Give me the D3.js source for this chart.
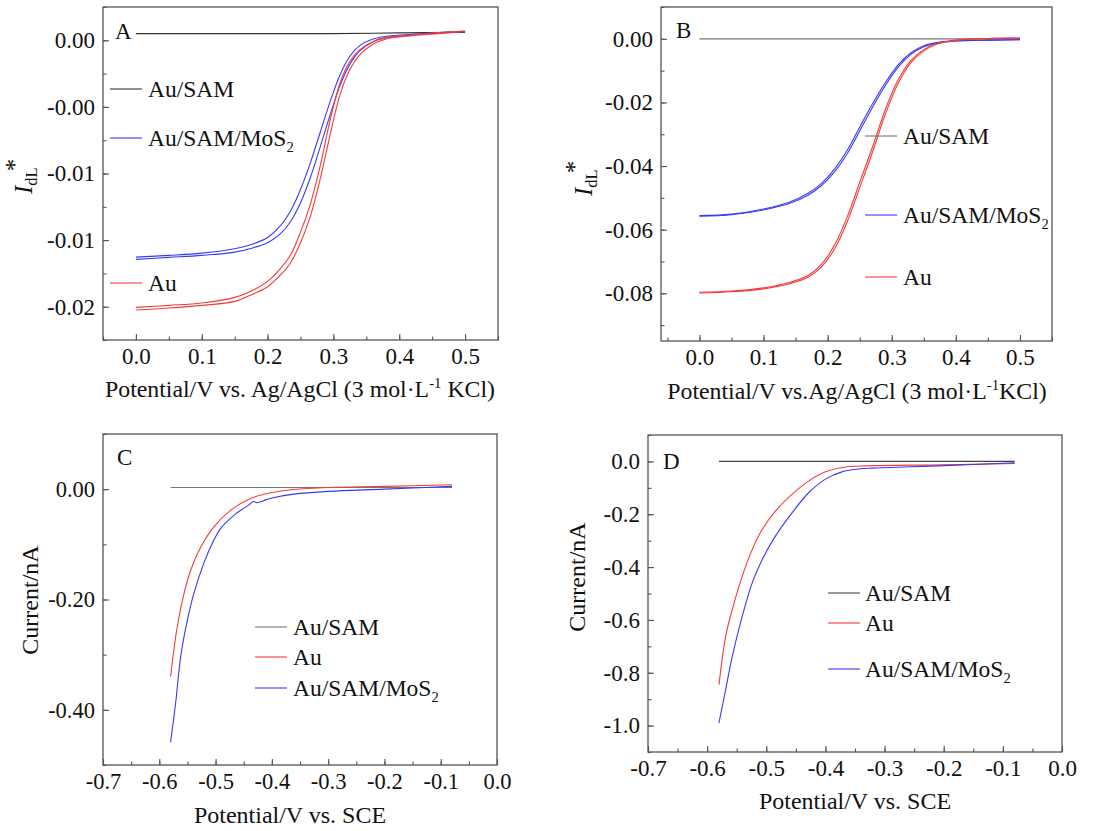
<!DOCTYPE html>
<html>
<head>
<meta charset="utf-8">
<script src="https://cdn.jsdelivr.net/npm/d3@7"></script>
<style>
  body { margin: 0; background: #fff; }
  text { font-family: "Liberation Serif", "Times New Roman", serif; fill: #111; }
</style>
</head>
<body>
<div class="chart"></div>
<script>
// ---- data ----
// panel A : normalised current vs potential (two scans per electrode)
var aAuSam = [[0, 0.0005], [0.1, 0.0005], [0.2, 0.0005], [0.3, 0.0005], [0.4, 0.00055], [0.5, 0.0006]];
var aMoS2Fwd = [[0, -0.01628], [0.05, -0.01615], [0.1, -0.01598], [0.15, -0.01565], [0.18, -0.01525], [0.2, -0.0148],
  [0.22, -0.0139], [0.235, -0.0128], [0.25, -0.0112], [0.265, -0.0092], [0.28, -0.0069], [0.295, -0.0046],
  [0.31, -0.0026], [0.325, -0.0012], [0.34, -0.0004], [0.36, 0.0001], [0.38, 0.0003], [0.42, 0.00045], [0.46, 0.00058], [0.5, 0.00068]];
var aMoS2Rev = [[0, -0.01645], [0.05, -0.0163], [0.1, -0.01615], [0.15, -0.0159], [0.18, -0.01555], [0.2, -0.0152],
  [0.22, -0.0145], [0.235, -0.0136], [0.25, -0.0122], [0.265, -0.0103], [0.28, -0.008], [0.295, -0.0056],
  [0.31, -0.0034], [0.325, -0.0018], [0.34, -0.0008], [0.36, -0.0001], [0.38, 0.0002], [0.42, 0.0004], [0.46, 0.00055], [0.5, 0.00065]];
var aAuFwd = [[0, -0.02005], [0.05, -0.0199], [0.1, -0.01972], [0.15, -0.0193], [0.18, -0.0187], [0.2, -0.0181],
  [0.22, -0.0171], [0.235, -0.0161], [0.25, -0.0144], [0.265, -0.0123], [0.28, -0.0094], [0.295, -0.006],
  [0.31, -0.0032], [0.325, -0.0016], [0.34, -0.0007], [0.36, -0.0001], [0.38, 0.0002], [0.42, 0.0004], [0.46, 0.00058], [0.5, 0.0007]];
var aAuRev = [[0, -0.02025], [0.05, -0.0201], [0.1, -0.0199], [0.15, -0.0196], [0.18, -0.019], [0.2, -0.0185],
  [0.22, -0.0176], [0.235, -0.0167], [0.25, -0.0152], [0.265, -0.0132], [0.28, -0.0104], [0.295, -0.0071],
  [0.31, -0.0041], [0.325, -0.0022], [0.34, -0.0011], [0.36, -0.0003], [0.38, 0.0001], [0.42, 0.00035], [0.46, 0.0005], [0.5, 0.00065]];

// panel B
var bAuSam = [[0, 0], [0.5, 0]];
var bMoS2Fwd = [[0, -0.0556], [0.05, -0.0551], [0.1, -0.0535], [0.14, -0.0514], [0.17, -0.0485], [0.19, -0.0455],
  [0.21, -0.0411], [0.23, -0.0352], [0.25, -0.0278], [0.27, -0.0204], [0.29, -0.0138], [0.31, -0.0082],
  [0.33, -0.0044], [0.35, -0.0022], [0.37, -0.0012], [0.4, -0.0006], [0.45, -0.0004], [0.5, -0.0003]];
var bMoS2Rev = [[0, -0.0558], [0.05, -0.0553], [0.1, -0.0538], [0.14, -0.0518], [0.17, -0.0491], [0.19, -0.0462],
  [0.21, -0.042], [0.23, -0.0363], [0.25, -0.029], [0.27, -0.0215], [0.29, -0.0147], [0.31, -0.0089],
  [0.33, -0.0049], [0.35, -0.0025], [0.37, -0.0013], [0.4, -0.0007], [0.45, -0.0004], [0.5, -0.0003]];
var bAuFwd = [[0, -0.0797], [0.05, -0.0793], [0.1, -0.0783], [0.14, -0.0766], [0.17, -0.0743], [0.19, -0.071],
  [0.21, -0.0651], [0.23, -0.0563], [0.25, -0.0451], [0.27, -0.034], [0.29, -0.0222], [0.31, -0.0129],
  [0.33, -0.0068], [0.35, -0.0034], [0.37, -0.0015], [0.4, -0.0004], [0.45, 0.0001], [0.5, 0.0002]];
var bAuRev = [[0, -0.0799], [0.05, -0.0795], [0.1, -0.0786], [0.14, -0.077], [0.17, -0.0749], [0.19, -0.0718],
  [0.21, -0.0663], [0.23, -0.0578], [0.25, -0.0468], [0.27, -0.0356], [0.29, -0.0237], [0.31, -0.014],
  [0.33, -0.0075], [0.35, -0.0038], [0.37, -0.0017], [0.4, -0.0005], [0.45, 0.0001], [0.5, 0.0002]];

// panel C : current (nA) vs potential (V vs SCE)
var cAuSam = [[-0.58, 0.003], [-0.08, 0.003]];
var cAu = [[-0.58, -0.34], [-0.568, -0.249], [-0.556, -0.189], [-0.544, -0.1466], [-0.526, -0.1044], [-0.503, -0.0682],
  [-0.473, -0.038], [-0.438, -0.0169], [-0.402, -0.0066], [-0.361, -0.0006], [-0.3, 0.003], [-0.2, 0.005], [-0.08, 0.008]];
var cMoS2 = [[-0.58, -0.459], [-0.571, -0.388], [-0.562, -0.3035], [-0.55, -0.237], [-0.5385, -0.189], [-0.521, -0.1345],
  [-0.503, -0.0923], [-0.491, -0.0712], [-0.467, -0.047], [-0.44, -0.028], [-0.433, -0.0225], [-0.426, -0.0245],
  [-0.41, -0.019], [-0.396, -0.015], [-0.361, -0.009], [-0.3, -0.004], [-0.2, 0.0], [-0.08, 0.005]];

// panel D
var dAuSam = [[-0.58, 0], [-0.08, 0]];
var dAu = [[-0.58, -0.845], [-0.5687, -0.662], [-0.5575, -0.5605], [-0.5406, -0.434], [-0.5237, -0.333], [-0.5068, -0.257],
  [-0.4843, -0.1874], [-0.4561, -0.124], [-0.428, -0.0736], [-0.4, -0.0395], [-0.372, -0.0228], [-0.332, -0.0167],
  [-0.2, -0.013], [-0.08, -0.008]];
var dMoS2 = [[-0.58, -0.99], [-0.5687, -0.864], [-0.5575, -0.738], [-0.5406, -0.586], [-0.5237, -0.459], [-0.5068, -0.371],
  [-0.4843, -0.282], [-0.4561, -0.1936], [-0.428, -0.1177], [-0.4, -0.067], [-0.372, -0.0395], [-0.344, -0.029],
  [-0.321, -0.0254], [-0.2, -0.016], [-0.08, -0.005]];

// tick values and labels
var abTicksX = [0, 0.1, 0.2, 0.3, 0.4, 0.5];
var abLabelsX = ["0.0", "0.1", "0.2", "0.3", "0.4", "0.5"];
var aTicksY = [0, -0.005, -0.01, -0.015, -0.02];
var aLabelsY = ["0.00", "-0.00", "-0.01", "-0.01", "-0.02"];
var bTicksY = [0, -0.02, -0.04, -0.06, -0.08];
var bLabelsY = ["0.00", "-0.02", "-0.04", "-0.06", "-0.08"];
var cdTicksX = [-0.7, -0.6, -0.5, -0.4, -0.3, -0.2, -0.1, 0];
var cdLabelsX = ["-0.7", "-0.6", "-0.5", "-0.4", "-0.3", "-0.2", "-0.1", "0.0"];
var cTicksY = [0, -0.2, -0.4];
var cLabelsY = ["0.00", "-0.20", "-0.40"];
var dTicksY = [0, -0.2, -0.4, -0.6, -0.8, -1.0];
var dLabelsY = ["0.0", "-0.2", "-0.4", "-0.6", "-0.8", "-1.0"];

var RED = "#f43a3a", BLUE = "#3a3af4";

var svg = d3.select(".chart").append("svg")
  .attr("width", 1107)
  .attr("height", 831);
svg.append("rect").attr("width", 1107).attr("height", 831).attr("fill", "#fff");

function range(a, b, step) {
  var out = [];
  for (var v = a; v <= b + step / 1000; v += step) out.push(+v.toFixed(5));
  return out;
}

function panel(p) {
  var g = svg.append("g");
  var x = d3.scaleLinear().domain(p.xDom).range([p.l, p.r]);
  var y = d3.scaleLinear().domain(p.yDom).range([p.b, p.t]);

  // minor ticks
  g.append("g").attr("transform", `translate(0,${p.b})`)
    .call(d3.axisBottom(x).tickValues(p.xMinor).tickSize(-3.5).tickFormat(""))
    .call(s => s.select(".domain").remove());
  g.append("g").attr("transform", `translate(${p.l},0)`)
    .call(d3.axisLeft(y).tickValues(p.yMinor).tickSize(-3.5).tickFormat(""))
    .call(s => s.select(".domain").remove());

  // major ticks + labels
  var xa = g.append("g").attr("transform", `translate(0,${p.b})`)
    .call(d3.axisBottom(x).tickValues(p.xTicks).tickSize(-6).tickPadding(p.xPad)
      .tickFormat((d, i) => p.xLabels[i]));
  var ya = g.append("g").attr("transform", `translate(${p.l},0)`)
    .call(d3.axisLeft(y).tickValues(p.yTicks).tickSize(-6).tickPadding(8)
      .tickFormat((d, i) => p.yLabels[i]));
  [xa, ya].forEach(function(a) {
    a.select(".domain").remove();
    a.selectAll("text").attr("font-size", p.fs).attr("fill", "#111");
  });
  g.selectAll(".tick line").attr("stroke", "#555").attr("stroke-width", 1.1);

  // frame
  g.append("rect")
    .attr("x", p.l).attr("y", p.t)
    .attr("width", p.r - p.l).attr("height", p.b - p.t)
    .attr("fill", "none").attr("stroke", "#555").attr("stroke-width", 1.3);

  var line = d3.line().x(d => x(d[0])).y(d => y(d[1])).curve(d3.curveCatmullRom.alpha(0.5));
  p.series.forEach(function(s) {
    g.append("path").datum(s.data)
      .attr("d", line)
      .attr("fill", "none")
      .attr("stroke", s.color)
      .attr("stroke-width", s.w || 1.1);
  });

  // legend
  p.legend.forEach(function(e) {
    g.append("line")
      .attr("x1", p.legX).attr("x2", p.legX + 32)
      .attr("y1", e.y).attr("y2", e.y)
      .attr("stroke", e.color).attr("stroke-width", 1.1);
    var t = g.append("text")
      .attr("x", p.legTextX).attr("y", e.y + 8)
      .attr("font-size", p.legFs);
    if (e.sub) {
      t.append("tspan").text(e.label);
      t.append("tspan").attr("font-size", p.legFs * 0.62).attr("dy", 6).text(e.sub);
    } else {
      t.text(e.label);
    }
  });

  // panel letter
  g.append("text").attr("x", p.letterX).attr("y", p.letterY)
    .attr("font-size", 23).text(p.letter);

  return g;
}

function idlTitle(g, tx, ty, fs) {
  var t = g.append("text")
    .attr("transform", `translate(${tx},${ty}) rotate(-90)`)
    .attr("font-size", fs);
  t.append("tspan").attr("font-style", "italic").text("I");
  t.append("tspan").attr("font-size", fs * 0.66).attr("dy", 5).text("dL");
  t.append("tspan").attr("dy", -14).attr("dx", -4).text("*");
}

function potTitle(g, cx, by, fs, gap) {
  var t = g.append("text").attr("x", cx).attr("y", by)
    .attr("text-anchor", "middle").attr("font-size", fs);
  t.append("tspan").text("Potential/V vs." + gap + "Ag/AgCl (3 mol\u00b7L");
  t.append("tspan").attr("font-size", fs * 0.62).attr("dy", -9).text("-1");
  t.append("tspan").attr("dy", 9).text((gap ? " " : "") + "KCl)");
}

// ---- panel A ----
var gA = panel({
  l: 103, t: 7, r: 498, b: 340, xDom: [-0.05, 0.55], yDom: [-0.0225, 0.0025],
  xTicks: abTicksX, xLabels: abLabelsX, xMinor: range(-0.05, 0.55, 0.05),
  yTicks: aTicksY, yLabels: aLabelsY, yMinor: range(-0.0225, 0.0025, 0.0025),
  xPad: 8, fs: 23, legFs: 23.5, letter: "A", letterX: 115, letterY: 39,
  series: [
    { data: aAuSam, color: "#333", w: 1.2 },
    { data: aMoS2Fwd, color: BLUE }, { data: aMoS2Rev, color: BLUE },
    { data: aAuFwd, color: RED }, { data: aAuRev, color: RED }
  ],
  legX: 110, legTextX: 148,
  legend: [
    { y: 89, color: "#333", label: "Au/SAM" },
    { y: 138, color: BLUE, label: "Au/SAM/MoS", sub: "2" },
    { y: 283, color: RED, label: "Au" }
  ]
});
idlTitle(gA, 32, 194, 25);
potTitle(gA, 300, 397, 23.8, " ");

// ---- panel B ----
var gB = panel({
  l: 661, t: 7, r: 1052, b: 341, xDom: [-0.06, 0.55], yDom: [-0.095, 0.01],
  xTicks: abTicksX, xLabels: abLabelsX, xMinor: range(-0.05, 0.55, 0.05),
  yTicks: bTicksY, yLabels: bLabelsY, yMinor: range(-0.09, 0.01, 0.01),
  xPad: 8, fs: 23, legFs: 23.5, letter: "B", letterX: 676, letterY: 38,
  series: [
    { data: bAuSam, color: "#777", w: 1.2 },
    { data: bMoS2Fwd, color: BLUE }, { data: bMoS2Rev, color: BLUE },
    { data: bAuFwd, color: RED }, { data: bAuRev, color: RED }
  ],
  legX: 865, legTextX: 903,
  legend: [
    { y: 136, color: "#777", label: "Au/SAM" },
    { y: 215, color: BLUE, label: "Au/SAM/MoS", sub: "2" },
    { y: 277, color: RED, label: "Au" }
  ]
});
idlTitle(gB, 592, 196, 25);
potTitle(gB, 857, 399, 23.8, "");

// ---- panel C ----
var gC = panel({
  l: 103, t: 434, r: 497, b: 765, xDom: [-0.7, 0], yDom: [-0.5, 0.1],
  xTicks: cdTicksX, xLabels: cdLabelsX, xMinor: range(-0.7, 0, 0.05),
  yTicks: cTicksY, yLabels: cLabelsY, yMinor: range(-0.5, 0.1, 0.1),
  xPad: 8, fs: 22.5, legFs: 23.5, letter: "C", letterX: 117, letterY: 465,
  series: [
    { data: cAuSam, color: "#777", w: 1.2 },
    { data: cAu, color: RED },
    { data: cMoS2, color: BLUE }
  ],
  legX: 255, legTextX: 293,
  legend: [
    { y: 627, color: "#777", label: "Au/SAM" },
    { y: 657, color: RED, label: "Au" },
    { y: 688, color: BLUE, label: "Au/SAM/MoS", sub: "2" }
  ]
});
gC.append("text").attr("transform", "translate(38,600) rotate(-90)")
  .attr("text-anchor", "middle").attr("font-size", 24).text("Current/nA");
gC.append("text").attr("x", 290).attr("y", 823)
  .attr("text-anchor", "middle").attr("font-size", 24).text("Potential/V vs. SCE");

// ---- panel D ----
var gD = panel({
  l: 648, t: 435, r: 1062, b: 752, xDom: [-0.7, 0], yDom: [-1.1, 0.1],
  xTicks: cdTicksX, xLabels: cdLabelsX, xMinor: range(-0.7, 0, 0.05),
  yTicks: dTicksY, yLabels: dLabelsY, yMinor: range(-1.1, 0.1, 0.1),
  xPad: 8, fs: 23, legFs: 23.5, letter: "D", letterX: 663, letterY: 469,
  series: [
    { data: dAuSam, color: "#444", w: 1.2 },
    { data: dAu, color: RED },
    { data: dMoS2, color: BLUE }
  ],
  legX: 828, legTextX: 865,
  legend: [
    { y: 593, color: "#444", label: "Au/SAM" },
    { y: 623, color: RED, label: "Au" },
    { y: 669, color: BLUE, label: "Au/SAM/MoS", sub: "2" }
  ]
});
gD.append("text").attr("transform", "translate(585,577) rotate(-90)")
  .attr("text-anchor", "middle").attr("font-size", 24).text("Current/nA");
gD.append("text").attr("x", 855).attr("y", 809)
  .attr("text-anchor", "middle").attr("font-size", 24).text("Potential/V vs. SCE");
</script>
</body>
</html>
